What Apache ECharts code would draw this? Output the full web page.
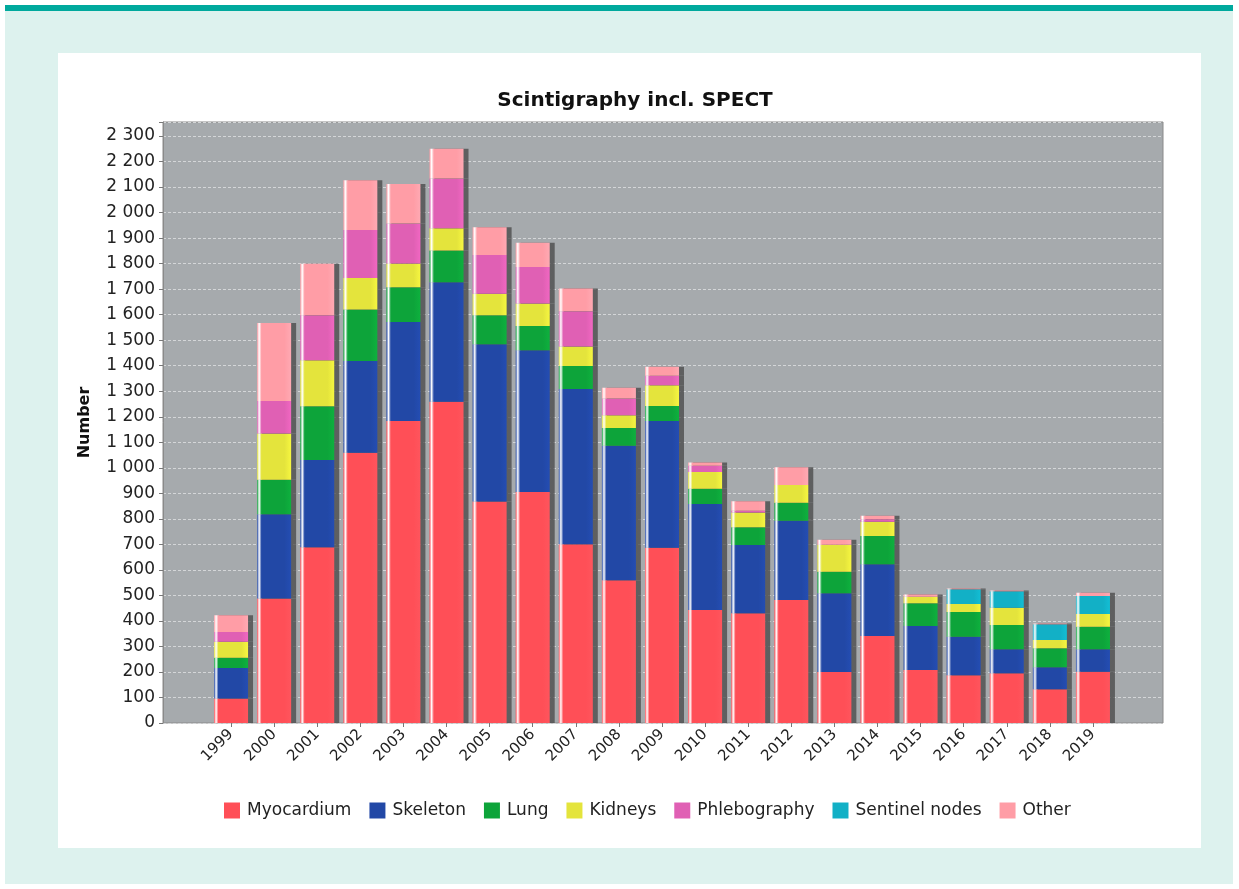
<!DOCTYPE html>
<html>
<head>
<meta charset="utf-8">
<script src="https://cdn.jsdelivr.net/npm/echarts@6/dist/echarts.min.js"></script>
<style>
  html, body { margin: 0; padding: 0; background: #fff; }
  #chart { width: 1239px; height: 889px; }
</style>
</head>
<body>
<div id="chart"></div>
<script>
"use strict";

// categories
var years = ["1999", "2000", "2001", "2002", "2003", "2004", "2005", "2006", "2007", "2008",
    "2009", "2010", "2011", "2012", "2013", "2014", "2015", "2016", "2017", "2018", "2019"];

// series values
var myocardium   = [96, 488, 689, 1059, 1183, 1259, 868, 905, 700, 559, 687, 443, 430, 482, 200, 341, 208, 187, 195, 132, 201];
var skeleton     = [120, 330, 342, 359, 388, 468, 616, 556, 609, 527, 496, 415, 267, 311, 308, 281, 172, 151, 94, 86, 88];
var lung         = [40, 135, 210, 202, 136, 124, 114, 95, 90, 70, 59, 60, 70, 70, 85, 111, 89, 97, 95, 75, 88];
var kidneys      = [62, 181, 180, 124, 94, 88, 84, 88, 76, 50, 81, 66, 58, 70, 105, 56, 26, 31, 68, 32, 50];
var phlebography = [39, 128, 177, 188, 156, 195, 152, 143, 138, 66, 38, 24, 7, 0, 0, 9, 0, 0, 0, 0, 0];
var sentinel     = [0, 0, 0, 0, 0, 0, 0, 0, 0, 0, 0, 0, 0, 0, 0, 0, 0, 58, 64, 62, 71];
var other        = [65, 305, 202, 195, 155, 116, 109, 95, 90, 42, 35, 13, 37, 69, 20, 14, 9, 3, 3, 3, 12];

var yMax = 2355;

(function (window, echarts) {
    var chart = echarts.init(document.querySelector("#chart"));
    var FONT = "DejaVu Sans";

    // shiny bar fill: white highlight near the left edge
    function shine(color) {
        return new echarts.graphic.LinearGradient(0, 0, 1, 0, [
            { offset: 0, color: color },
            { offset: 0.06, color: "#ffffff" },
            { offset: 0.13, color: color },
            { offset: 0.8, color: color },
            { offset: 1, color: echarts.color.lift(color, -0.08) }
        ]);
    }

    function spaced(v) {
        if (v % 100 !== 0) return "";
        return String(v).replace(/\B(?=(\d{3})+(?!\d))/g, " ");
    }

    var defs = [
        { name: "Myocardium", data: myocardium, color: "#ff4f57" },
        { name: "Skeleton", data: skeleton, color: "#2248a6" },
        { name: "Lung", data: lung, color: "#0da43a" },
        { name: "Kidneys", data: kidneys, color: "#e4e43c" },
        { name: "Phlebography", data: phlebography, color: "#e060b4" },
        { name: "Sentinel nodes", data: sentinel, color: "#12b0c6" },
        { name: "Other", data: other, color: "#ff9da6" }
    ];

    var series = defs.map(function (d) {
        return {
            name: d.name,
            type: "bar",
            stack: "total",
            xAxisIndex: 1,
            yAxisIndex: 1,
            barWidth: 34,
            color: d.color,
            itemStyle: {
                color: shine(d.color),
                shadowColor: "rgba(70,70,70,0.75)",
                shadowOffsetX: 5,
                shadowOffsetY: 0,
                shadowBlur: 0
            },
            emphasis: { disabled: true },
            data: d.data
        };
    });

    var option = {
        animation: false,
        backgroundColor: "#ffffff",
        graphic: [
            { type: "rect", z: -10, shape: { x: 5, y: 5, width: 1228, height: 879 }, style: { fill: "#ddf2ee" } },
            { type: "rect", z: -9, shape: { x: 5, y: 5, width: 1228, height: 6 }, style: { fill: "#00a99d" } },
            { type: "rect", z: -9, shape: { x: 58, y: 53, width: 1143, height: 795 }, style: { fill: "#ffffff" } }
        ],
        title: {
            text: "Scintigraphy incl. SPECT",
            left: 630,
            top: 86,
            textAlign: "center",
            textStyle: { fontFamily: FONT, fontWeight: "bold", fontSize: 20, color: "#111" }
        },
        legend: {
            left: 219,
            top: 797,
            itemWidth: 16,
            itemHeight: 16,
            itemGap: 18,
            icon: "rect",
            selectedMode: false,
            textStyle: { fontFamily: FONT, fontSize: 17, color: "#222", padding: [0, 0, 0, 2] },
            data: defs.map(function (d) { return { name: d.name, itemStyle: { color: d.color, shadowColor: "transparent" } }; })
        },
        grid: [
            { left: 163, right: 76, top: 122, bottom: 166, show: true, backgroundColor: "#a6aaad", borderColor: "#8a8a8a", borderWidth: 1 },
            { left: 209.5, right: 124.5, top: 122, bottom: 166 }
        ],
        xAxis: [
            { type: "value", gridIndex: 0, show: false, min: 0, max: 1 },
            {
                type: "category",
                gridIndex: 1,
                data: years,
                axisLine: { show: false },
                axisTick: { show: true, alignWithLabel: true, length: 4, lineStyle: { color: "#777" } },
                axisLabel: { rotate: 45, margin: 9, fontFamily: FONT, fontSize: 15, color: "#222" }
            }
        ],
        yAxis: [
            {
                type: "value",
                gridIndex: 0,
                min: 0,
                max: yMax,
                interval: 100,
                name: "Number",
                nameLocation: "middle",
                nameGap: 70,
                nameTextStyle: { fontFamily: FONT, fontWeight: "bold", fontSize: 16, color: "#111" },
                axisLine: { show: true, lineStyle: { color: "#8a8a8a" } },
                axisTick: { show: true, length: 4, lineStyle: { color: "#777" } },
                axisLabel: { margin: 8, fontFamily: FONT, fontSize: 17, color: "#222", formatter: spaced },
                splitLine: { show: true, lineStyle: { color: "#d4d6d8", type: [3, 2], width: 1 } }
            },
            { type: "value", gridIndex: 1, show: false, min: 0, max: yMax }
        ],
        series: series
    };

    chart.setOption(option);
}(window, echarts));
</script>
</body>
</html>
